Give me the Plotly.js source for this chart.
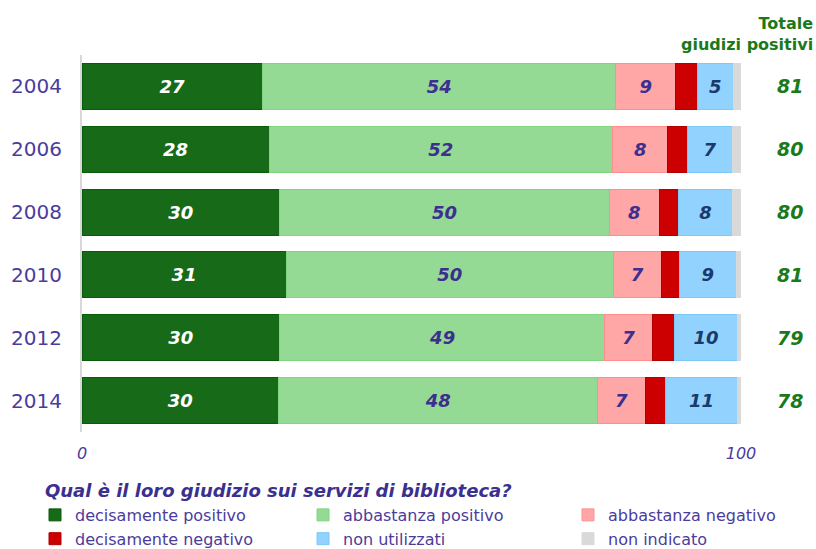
<!DOCTYPE html>
<html>
<head>
<meta charset="utf-8">
<script src="https://cdn.plot.ly/plotly-3.0.1.min.js"></script>
<style>
  html, body { margin: 0; padding: 0; background: #fff; }
  #chart { width: 816px; height: 549px; }
</style>
</head>
<body>
<div id="chart"></div>
<script>
const anni = ['2004', '2006', '2008', '2010', '2012', '2014'];
const decisPositivo = [27.4, 28.4, 30.0, 31.0, 30.0, 29.8];
const abbPositivo = [53.6, 52.1, 50.0, 49.6, 49.3, 48.4];
const abbNegativo = [9.1, 8.4, 7.6, 7.3, 7.3, 7.3];
const decisNegativo = [3.3, 3.0, 2.9, 2.7, 3.3, 3.0];
const nonUtilizzati = [5.4, 6.8, 8.2, 8.7, 9.6, 11.0];
const nonIndicato = [1.2, 1.3, 1.3, 0.7, 0.5, 0.5];
const totalePositivi = [81, 80, 80, 81, 79, 78];

const viola = '#4b3c9c';
const verde = '#1a7a1a';

function serie(nome, valori, colore, bordo, testo, coloreTesto, legenda) {
    return {
        type: 'bar',
        orientation: 'h',
        name: nome,
        x: valori,
        y: anni,
        legend: legenda,
        marker: {color: colore, line: {color: bordo, width: 1}},
        texttemplate: testo ? '%{x:.0f}' : '',
        textposition: testo ? 'inside' : 'none',
        insidetextanchor: 'middle',
        textangle: 0,
        insidetextfont: {family: 'DejaVu Sans', size: 18, weight: 'bold', style: 'italic', color: coloreTesto},
        hoverinfo: 'x+name'
    };
}

const tracce = [
    serie('decisamente positivo', decisPositivo, '#176a17', '#0a5c0a', true, '#ffffff', 'legend'),
    serie('abbastanza positivo', abbPositivo, '#94d994', '#7fd67f', true, '#3c2f8f', 'legend2'),
    serie('abbastanza negativo', abbNegativo, '#ffa6a6', '#ff8f8f', true, '#3c2f8f', 'legend3'),
    serie('decisamente negativo', decisNegativo, '#cc0000', '#b00000', false, '#fff', 'legend'),
    serie('non utilizzati', nonUtilizzati, '#92d2ff', '#7cc8f8', true, '#1a3a6a', 'legend2'),
    serie('non indicato', nonIndicato, '#d9d9d9', '#d9d9d9', false, '#fff', 'legend3')
];

const fontLegenda = {family: 'DejaVu Sans', size: 16, color: viola};
const baseLegenda = {
    orientation: 'v', traceorder: 'normal', yanchor: 'top', y: -0.175, xanchor: 'left',
    font: fontLegenda, bgcolor: 'rgba(0,0,0,0)', itemwidth: 30, tracegroupgap: 0
};

// posizione per indice di categoria (0 = 2004)
const annotazioni = anni.map((a, i) => ({
    x: 1.074, xref: 'paper', y: i, yref: 'y', xanchor: 'center',
    text: String(totalePositivi[i]), showarrow: false,
    font: {family: 'DejaVu Sans', size: 19, weight: 'bold', style: 'italic', color: verde}
}));
annotazioni.push({
    x: 1.112, xref: 'paper', y: 1.056, yref: 'paper',
    xanchor: 'right', yanchor: 'middle', align: 'right',
    text: 'Totale<br>giudizi positivi', showarrow: false,
    font: {family: 'DejaVu Sans', size: 16, weight: 'bold', color: verde}
});
annotazioni.push({
    x: -0.059, xref: 'paper', y: -0.154, yref: 'paper',
    xanchor: 'left', yanchor: 'middle',
    text: 'Qual è il loro giudizio sui servizi di biblioteca?', showarrow: false,
    font: {family: 'DejaVu Sans', size: 18, weight: 'bold', style: 'italic', color: '#3b2f8f'}
});

const layout = {
    width: 816,
    height: 549,
    barmode: 'stack',
    bargap: 0.27,
    margin: {t: 55, b: 117, l: 82, r: 75, autoexpand: false},
    paper_bgcolor: '#fff',
    plot_bgcolor: '#fff',
    xaxis: {
        range: [0, 100], tickvals: [0, 100], showgrid: false, zeroline: false, showline: false,
        ticklabelstandoff: 10,
        tickfont: {family: 'DejaVu Sans', size: 16, style: 'italic', color: viola}
    },
    yaxis: {
        type: 'category', autorange: 'reversed', showgrid: false, zeroline: false,
        showline: true, linecolor: '#d9d9d9', linewidth: 2,
        ticklabelstandoff: 14,
        tickfont: {family: 'DejaVu Sans', size: 20, color: viola}
    },
    showlegend: true,
    legend: Object.assign({}, baseLegenda, {x: -0.0713}),
    legend2: Object.assign({}, baseLegenda, {x: 0.3354}),
    legend3: Object.assign({}, baseLegenda, {x: 0.7375}),
    annotations: annotazioni
};

Plotly.newPlot('chart', tracce, layout, {displayModeBar: false, staticPlot: true});
</script>
</body>
</html>
